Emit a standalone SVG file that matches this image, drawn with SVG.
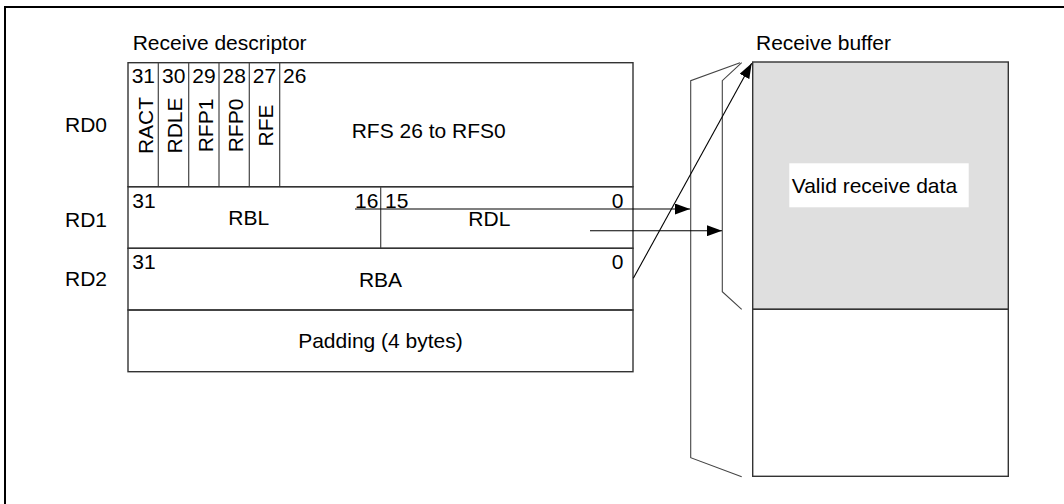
<svg xmlns="http://www.w3.org/2000/svg" width="1064" height="504" viewBox="0 0 1064 504">
<style>
text{font-family:"Liberation Sans",Arial,sans-serif;font-size:21px;fill:#000}
.box{fill:none;stroke:#333;stroke-width:1.4}
.div{stroke:#444;stroke-width:1.2;fill:none}
.thin{stroke:#444;stroke-width:1.1;fill:none}
.conn{stroke:#000;stroke-width:1.1;fill:none}
</style>
<defs>
<marker id="ah" viewBox="0 0 15 11" refX="15" refY="5.5" markerWidth="15" markerHeight="11" markerUnits="userSpaceOnUse" orient="auto">
<path d="M0,0 L15,5.5 L0,11 Z" fill="#000"/>
</marker>
</defs>
<rect width="1064" height="504" fill="#fff"/>
<path d="M5,504 V7 H1064" fill="none" stroke="#000" stroke-width="2"/>
<g id="labels">
<text x="132.7" y="50">Receive descriptor</text>
<text x="65" y="131.7">RD0</text>
<text x="65" y="226.7">RD1</text>
<text x="65" y="286">RD2</text>
</g>
<g id="rd0">
<rect class="box" x="128" y="62.7" width="505" height="124"/>
<path class="div" d="M158.3,62.7V186.7M188.7,62.7V186.7M219,62.7V186.7M249.3,62.7V186.7M279.7,62.7V186.7"/>
<text x="131.7" y="83.3">31</text>
<text x="162" y="83.3">30</text>
<text x="192.3" y="83.3">29</text>
<text x="222.5" y="83.3">28</text>
<text x="252.8" y="83.3">27</text>
<text x="283" y="83.3">26</text>
<g text-anchor="middle">
<text transform="translate(153.3,125.5) rotate(-90)">RACT</text>
<text transform="translate(182.3,125.5) rotate(-90)">RDLE</text>
<text transform="translate(213.3,125.5) rotate(-90)">RFP1</text>
<text transform="translate(243.3,125.5) rotate(-90)">RFP0</text>
<text transform="translate(273.3,125.5) rotate(-90)">RFE</text>
</g>
<text x="351.7" y="138.3">RFS 26 to RFS0</text>
</g>
<g id="rd1">
<rect class="box" x="128" y="186.7" width="505" height="61.6"/>
<path class="div" d="M380.7,186.7V248.3"/>
<text x="132.3" y="208.3">31</text>
<text x="355" y="208.3">16</text>
<text x="385" y="208.3">15</text>
<text x="611.7" y="208.3">0</text>
<text x="228.3" y="225">RBL</text>
<text x="468.3" y="225.7">RDL</text>
</g>
<g id="rd2">
<rect class="box" x="128" y="248.3" width="505" height="61.7"/>
<text x="132.3" y="269.3">31</text>
<text x="611.7" y="269.3">0</text>
<text x="380.5" y="286.7" text-anchor="middle">RBA</text>
</g>
<g id="padding">
<rect class="box" x="128" y="310" width="505" height="61.7"/>
<text x="380.5" y="348.3" text-anchor="middle">Padding (4 bytes)</text>
</g>
<g id="buffer">
<text x="756" y="50">Receive buffer</text>
<rect x="752.7" y="62" width="255.6" height="247.3" fill="#dfdfdf" stroke="#333" stroke-width="1.4"/>
<rect x="752.7" y="309.3" width="255.6" height="167" fill="#fff" stroke="#333" stroke-width="1.4"/>
<rect x="789.3" y="163.3" width="179.4" height="44" fill="#fff"/>
<text x="791.7" y="193.3">Valid receive data</text>
</g>
<g id="brackets">
<path class="thin" d="M740,62.7 L690.7,80.7 V457.7 L741.7,476.7"/>
<path class="thin" d="M741.7,62.7 L722.3,80.7 V291.7 L741.7,309.3"/>
</g>
<g id="connectors">
<path class="conn" d="M355,209 H690" marker-end="url(#ah)"/>
<path class="conn" d="M590,230.7 H722" marker-end="url(#ah)"/>
<path class="conn" d="M633.3,278.3 L751.7,63.3" marker-end="url(#ah)"/>
</g>
</svg>
